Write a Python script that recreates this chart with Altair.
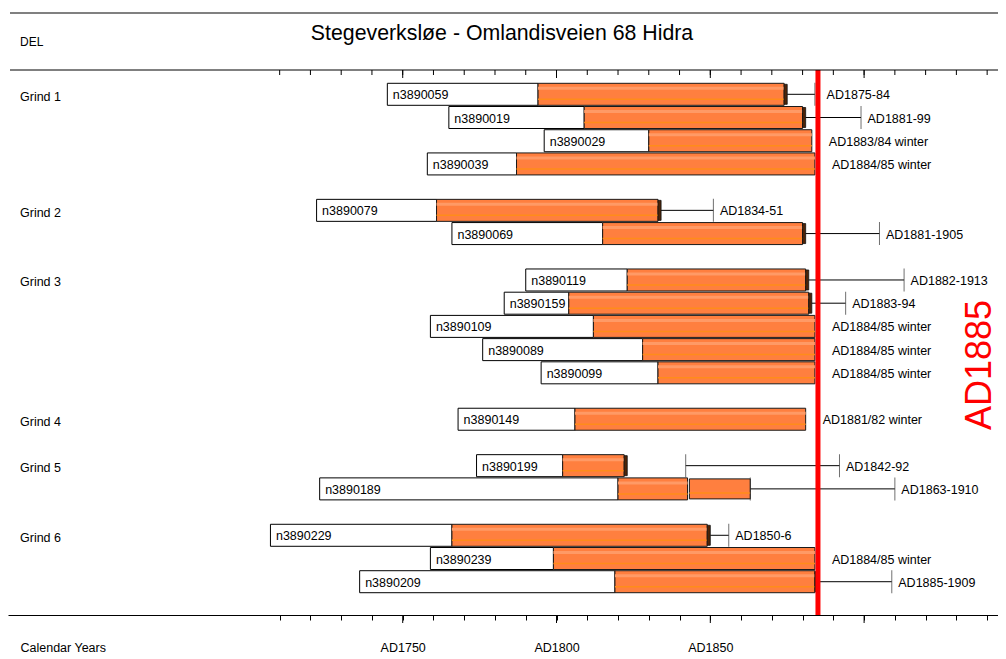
import altair as alt
import pandas as pd

TITLE = "Stegeverksløe - Omlandisveien 68 Hidra"
CORNER = "DEL"
X_TITLE = "Calendar Years"
FELL_YEAR = 1885
FELL_TEXT = "AD1885"

group_names = ["Grind 1", "Grind 2", "Grind 3", "Grind 4", "Grind 5", "Grind 6"]
group_sizes = [4, 2, 5, 1, 2, 3]

samples = ["n3890059", "n3890019", "n3890029", "n3890039",
           "n3890079", "n3890069",
           "n3890119", "n3890159", "n3890109", "n3890089", "n3890099",
           "n3890149",
           "n3890199", "n3890189",
           "n3890229", "n3890239", "n3890209"]
first_ring = [1745, 1765, 1796, 1758, 1722, 1766, 1790, 1783, 1759, 1776, 1795, 1768, 1774, 1723, 1707, 1759, 1736]
sapwood_start = [1794, 1809, 1830, 1787, 1761, 1815, 1823, 1804, 1812, 1828, 1833, 1806, 1802, 1820, 1766, 1799, 1819]
last_ring = [1874, 1880, 1883, 1884, 1833, 1880, 1881, 1882, 1884, 1884, 1884, 1881, 1822, 1842.6, 1849, 1884, 1884]
est_lo = [None] * 13 + [1843.2] + [None] * 3
est_hi = [None] * 13 + [1863] + [None] * 3
range_lo = [1875, 1881, None, None, 1834, 1881, 1882, 1883, None, None, None, None, 1842, 1863, 1850, None, 1885]
range_hi = [1884, 1899, None, None, 1851, 1905, 1913, 1894, None, None, None, None, 1892, 1910, 1856, None, 1909]
felling = ["AD1875-84", "AD1881-99", "AD1883/84 winter", "AD1884/85 winter",
           "AD1834-51", "AD1881-1905",
           "AD1882-1913", "AD1883-94", "AD1884/85 winter", "AD1884/85 winter", "AD1884/85 winter",
           "AD1881/82 winter",
           "AD1842-92", "AD1863-1910",
           "AD1850-6", "AD1884/85 winter", "AD1885-1909"]

tick_years = list(range(1710, 1941, 10))
major_years = [1750, 1800, 1850, 1900]
labelled_years = [1750, 1800, 1850]

FONT = "Liberation Sans"
FS = 12.5
ORANGE = "#FF7F3F"
W, H = 990, 545

# row layout: one blank row between groups
rows, group_first_row = [], []
r = 0
for n in group_sizes:
    group_first_row.append(r)
    rows.extend(range(r, r + n))
    r += n + 1

df = pd.DataFrame({
    "sample": samples, "row": rows, "first": first_ring, "hs": sapwood_start,
    "last": last_ring, "elo": est_lo, "ehi": est_hi,
    "wlo": range_lo, "whi": range_hi, "label": felling,
})
df["dark_end"] = df["last"] + 1
df["lab_x"] = [(FELL_YEAR + 0.7 if abs(w - FELL_YEAR) < 3 else w) if pd.notna(w) else None for w in df["whi"]]

whisk = df[df["wlo"].notna()]
dark = whisk[whisk["elo"].isna()]
gap_start = whisk[(whisk["wlo"] - whisk["last"]) > 2]
est = df[df["elo"].notna()]
nowhisk = df[df["wlo"].isna()]

groups_df = pd.DataFrame({"group": group_names, "row": group_first_row})
ticks_df = pd.DataFrame({"year": tick_years})
major_df = pd.DataFrame({"year": major_years})
one = pd.DataFrame({"a": [0]})

xs = alt.Scale(domain=[1621.68, 1943.53], nice=False, zero=False, padding=0)
ys = alt.Scale(domain=[-1.047, 22.434], reverse=True, nice=False, zero=False, padding=0)
XAX = alt.Axis(
    values=tick_years, tickSize=5, tickColor="black", domainColor="black",
    labelExpr="indexof(" + str(labelled_years) + ", datum.value) >= 0 ? 'AD' + datum.value : ''",
    labelFont=FONT, labelFontSize=FS, labelColor="black", labelBaseline="middle",
    labelPadding=27, labelAngle=0, grid=False, labelFlush=False, labelOverlap=False,
    title=X_TITLE, titleFont=FONT, titleFontSize=FS, titleFontWeight="normal",
    titleColor="black", titleX=12, titleY=32, titleAlign="left", titleBaseline="middle",
    titleAnchor="start",
)
YEN = alt.Y("row:Q", scale=ys, axis=None)


def X(field):
    return alt.X(field + ":Q", scale=xs, axis=XAX)


base = alt.Chart(df)

white = base.mark_bar(size=22, fill="white", stroke="black", strokeWidth=1).encode(
    x=X("first"), x2="hs", y=YEN)
orange = base.mark_bar(size=22, fill=ORANGE, stroke="#1a1a1a", strokeWidth=1).encode(
    x=X("hs"), x2="last", y=YEN)
stripe1 = base.mark_bar(size=3, color="#FF9A66", yOffset=-6).encode(x=X("hs"), x2="last", y=YEN)
stripe2 = base.mark_bar(size=1.5, color="#FF8C1A", yOffset=5).encode(x=X("hs"), x2="last", y=YEN)

est_box = alt.Chart(est).mark_bar(size=20, fill=ORANGE, stroke="#1a1a1a", strokeWidth=1).encode(
    x=X("elo"), x2="ehi", y=YEN)
est_stripe = alt.Chart(est).mark_bar(size=1.5, color="#FF8C1A", yOffset=4).encode(
    x=X("elo"), x2="ehi", y=YEN)

dark_seg = alt.Chart(dark).mark_bar(size=20, fill="#4d2408", stroke="#111", strokeWidth=0.8).encode(
    x=X("last"), x2="dark_end", y=YEN)

whisker = alt.Chart(whisk).mark_rule(color="black", strokeWidth=1).encode(
    x=X("wlo"), x2="whi", y=YEN)
end_tick = alt.Chart(whisk).mark_tick(orient="vertical", size=23, thickness=1, color="#333333").encode(
    x=X("whi"), y=YEN)
start_tick = alt.Chart(gap_start).mark_tick(orient="vertical", size=23, thickness=1, color="#333333").encode(
    x=X("wlo"), y=YEN)

names = base.mark_text(align="left", baseline="middle", dx=5.5, dy=1, font=FONT, fontSize=FS, color="black").encode(
    x=X("first"), y=YEN, text="sample:N")
lab_w = alt.Chart(whisk).mark_text(align="left", baseline="middle", dx=6.5, dy=1, font=FONT, fontSize=FS, color="black").encode(
    x=X("lab_x"), y=YEN, text="label:N")
lab_n = alt.Chart(nowhisk).mark_text(align="left", baseline="middle", dx=17, dy=1, font=FONT, fontSize=FS, color="black").encode(
    x=X("last"), y=YEN, text="label:N")

red = alt.Chart(pd.DataFrame({"year": [FELL_YEAR]})).mark_rule(color="#FF0000", strokeWidth=5).encode(
    x=X("year"))
red_text = alt.Chart(one).mark_text(angle=270, font=FONT, fontSize=36, color="#FF0000",
                                    align="center", baseline="middle").encode(
    x=alt.value(971.5), y=alt.value(295), text=alt.value(FELL_TEXT))

grp = alt.Chart(groups_df).mark_text(align="left", baseline="middle", dy=2.5, font=FONT, fontSize=FS, color="black").encode(
    x=alt.value(12), y=YEN, text="group:N")

top_minor = alt.Chart(ticks_df).mark_rule(color="black", strokeWidth=1).encode(
    x=X("year"), y=alt.value(0), y2=alt.value(5))
top_major = alt.Chart(major_df).mark_rule(color="black", strokeWidth=1).encode(
    x=X("year"), y=alt.value(0), y2=alt.value(8))
bot_major = alt.Chart(major_df).mark_rule(color="black", strokeWidth=1).encode(
    x=X("year"), y=alt.value(H), y2=alt.value(H + 8))
top_line = alt.Chart(one).mark_rule(color="black", strokeWidth=1).encode(
    x=alt.value(2), x2=alt.value(W), y=alt.value(0))
gray_line = alt.Chart(one).mark_rule(color="#808080", strokeWidth=2).encode(
    x=alt.value(2), x2=alt.value(W), y=alt.value(-57))
title = alt.Chart(one).mark_text(align="center", baseline="middle", font=FONT, fontSize=21.3, color="black").encode(
    x=alt.value(494), y=alt.value(-36), text=alt.value(TITLE))
corner = alt.Chart(one).mark_text(align="left", baseline="middle", font=FONT, fontSize=12, color="black").encode(
    x=alt.value(12), y=alt.value(-28), text=alt.value(CORNER))

chart = alt.layer(
    white, orange, stripe1, stripe2, est_box, est_stripe, dark_seg,
    whisker, end_tick, start_tick, red,
    names, lab_w, lab_n, red_text, grp,
    top_minor, top_major, bot_major, top_line, gray_line, title, corner,
).properties(
    width=W, height=H,
    autosize=alt.AutoSizeParams(type="none"),
    padding={"left": 0, "top": 62, "right": 0, "bottom": 44},
    background="white",
).configure_view(stroke=None)

chart.save("out.html", embed_options={"renderer": "svg", "actions": False})
